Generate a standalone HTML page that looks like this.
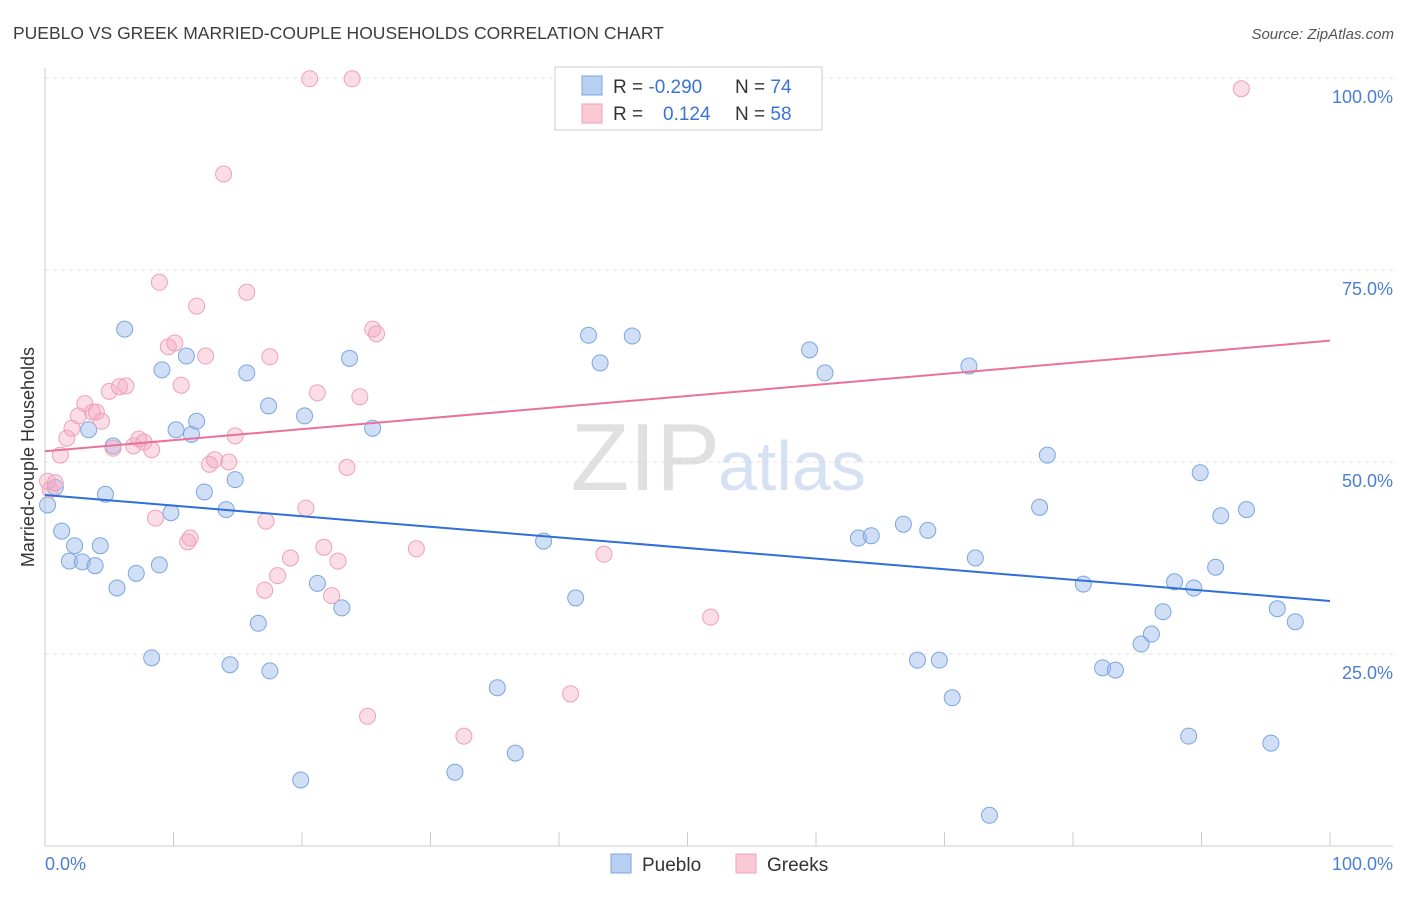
<!DOCTYPE html>
<html><head><meta charset="utf-8"><style>
body{margin:0;background:#fff;font-family:"Liberation Sans",sans-serif;}
svg text{font-family:"Liberation Sans",sans-serif;}
</style></head><body>
<svg id="chart" width="1406" height="892">
<text x="13" y="39" font-size="17.5" fill="#3d3d3d">PUEBLO VS GREEK MARRIED-COUPLE HOUSEHOLDS CORRELATION CHART</text>
<text x="1394" y="39" font-size="15" fill="#555" font-style="italic" text-anchor="end">Source: ZipAtlas.com</text>
<g id="grid"></g>
<text x="720" y="490" font-size="96" fill="#d4d4d4" text-anchor="end" font-family="Liberation Serif" opacity="0.7">ZIP</text>
<text x="718" y="490" font-size="70" fill="#bcd0ee" opacity="0.6">atlas</text>
<line x1="45" y1="68" x2="45" y2="846" stroke="#ccc"/>
<line x1="45" y1="846" x2="1393" y2="846" stroke="#ccc"/>
<g id="ticks"></g>
<g id="pts"></g>
<g id="trends"></g>
<text x="45" y="870" font-size="18" fill="#4a7fd4">0.0%</text>
<text x="1393" y="870" font-size="18" fill="#4a7fd4" text-anchor="end">100.0%</text>
<text transform="translate(34,457) rotate(-90)" font-size="18" fill="#333" text-anchor="middle">Married-couple Households</text>
<g>
<rect x="555" y="67" width="267" height="63" fill="#fff" stroke="#ccc"/>
<rect x="582" y="76" width="20" height="19" fill="#b8d0f2" stroke="#7aa6e0"/>
<rect x="582" y="104" width="20" height="19" fill="#fbc8d6" stroke="#f0a0b8"/>
<text x="613" y="93" font-size="19" fill="#333">R = <tspan fill="#3a74d4">-0.290</tspan></text>
<text x="735" y="93" font-size="19" fill="#333">N = <tspan fill="#3a74d4">74</tspan></text>
<text x="613" y="120" font-size="19" fill="#333">R = <tspan fill="#3a74d4" x="663">0.124</tspan></text>
<text x="735" y="120" font-size="19" fill="#333">N = <tspan fill="#3a74d4">58</tspan></text>
</g>
<g>
<rect x="611" y="854" width="20" height="19" fill="#b8d0f2" stroke="#7aa6e0"/>
<text x="642" y="871" font-size="19" fill="#333">Pueblo</text>
<rect x="736" y="854" width="20" height="19" fill="#fbc8d6" stroke="#f0a0b8"/>
<text x="767" y="871" font-size="19" fill="#333">Greeks</text>
</g>
</svg>
<script>
const yTicks=[25,50,75,100];
const yTickLabels=["25.0%","50.0%","75.0%","100.0%"];
const xTicks=[0,10,20,30,40,50,60,70,80,90,100];
const puebloX=[0.2,0.8,1.3,1.9,2.3,2.9,3.4,3.9,4.3,4.7,5.3,5.6,6.2,7.1,8.3,8.9,9.1,9.8,10.2,11.0,11.4,11.8,12.4,14.1,14.4,14.8,15.7,16.6,17.4,17.5,19.9,20.2,21.2,23.1,23.7,25.5,31.9,35.2,36.6,38.8,41.3,42.3,43.2,45.7,59.5,60.7,63.3,64.3,66.8,67.9,68.7,69.6,70.6,71.9,72.4,73.5,77.4,78.0,80.8,82.3,83.3,85.3,86.1,87.0,87.9,89.0,89.4,89.9,91.1,91.5,93.5,95.4,95.9,97.3];
const puebloY=[44.4,46.7,41.0,37.1,39.1,37.0,54.2,36.5,39.1,45.8,52.1,33.6,67.3,35.5,24.5,36.6,62.0,43.4,54.2,63.8,53.6,55.3,46.1,43.8,23.6,47.7,61.6,29.0,57.3,22.8,8.6,56.0,34.2,31.0,63.5,54.4,9.6,20.6,12.1,39.7,32.3,66.5,62.9,66.4,64.6,61.6,40.1,40.4,41.9,24.2,41.1,24.2,19.3,62.5,37.5,4.0,44.1,50.9,34.1,23.2,22.9,26.3,27.6,30.5,34.4,14.3,33.6,48.6,36.3,43.0,43.8,13.4,30.9,29.2];
const greekX=[0.2,0.4,0.8,1.2,1.7,2.1,2.6,3.1,3.7,4.0,4.4,5.0,5.3,5.8,6.3,6.9,7.3,7.7,8.3,8.6,8.9,9.6,10.1,10.6,11.1,11.3,11.8,12.5,12.8,13.2,13.9,14.3,14.8,15.7,17.1,17.2,17.5,18.1,19.1,20.3,20.6,21.2,21.7,22.3,22.8,23.5,23.9,24.5,25.1,25.5,25.8,28.9,32.6,40.9,43.5,51.8,56.3,93.1];
const greekY=[47.5,46.4,47.3,50.9,53.1,54.4,56.0,57.6,56.5,56.5,55.3,59.2,51.8,59.8,59.9,52.1,53.0,52.6,51.6,42.7,73.4,65.0,65.5,60.0,39.6,40.1,70.3,63.8,49.7,50.3,87.5,50.0,53.4,72.1,33.3,42.3,63.7,35.2,37.5,44.0,99.9,59.0,38.9,32.6,37.1,49.3,99.9,58.5,16.9,67.3,66.7,38.7,14.3,19.8,38.0,29.8,99.7,98.6];
const puebloTrend=[45.7,31.9];
const greekTrend=[51.4,65.8];
const NS='http://www.w3.org/2000/svg';
const sx=v=>45+v*12.85, sy=v=>846-v*7.68;
function mk(t,a,p){const e=document.createElementNS(NS,t);for(const k in a)e.setAttribute(k,a[k]);p.appendChild(e);return e;}
const grid=document.getElementById('grid');
yTicks.forEach((t,i)=>{
 const l=mk('line',{x1:45,x2:1393,y1:sy(t),y2:sy(t),stroke:'#e3e3e3','stroke-dasharray':'4,4'},grid);
 
 
 const tx=mk('text',{x:1393,y:sy(t)+25,'font-size':18,fill:'#4a7fd4','text-anchor':'end'},grid);
 tx.textContent=yTickLabels[i];
 
 
});
const ticks=document.getElementById('ticks');
xTicks.forEach(t=>{
 const l=mk('line',{x1:sx(t),x2:sx(t),y1:832,y2:846,stroke:'#ccc'},ticks);
 
 
});
const pts=document.getElementById('pts');
puebloX.forEach((x,i)=>{
 const c=mk('circle',{cx:sx(x),cy:sy(puebloY[i]),r:8,fill:'rgba(150,185,235,0.45)',stroke:'#7aa6e0','stroke-width':1},pts);
 
 
});
greekX.forEach((x,i)=>{
 const c=mk('circle',{cx:sx(x),cy:sy(greekY[i]),r:8,fill:'rgba(245,170,195,0.4)',stroke:'#f0a0b8','stroke-width':1},pts);
 
 
});
const tr=document.getElementById('trends');
const bl=mk('line',{x1:sx(0),y1:sy(puebloTrend[0]),x2:sx(100),y2:sy(puebloTrend[1]),stroke:'#2f6fd6','stroke-width':2},tr);


const pl=mk('line',{x1:sx(0),y1:sy(greekTrend[0]),x2:sx(100),y2:sy(greekTrend[1]),stroke:'#e8739a','stroke-width':2},tr);


</script>
</body></html>
